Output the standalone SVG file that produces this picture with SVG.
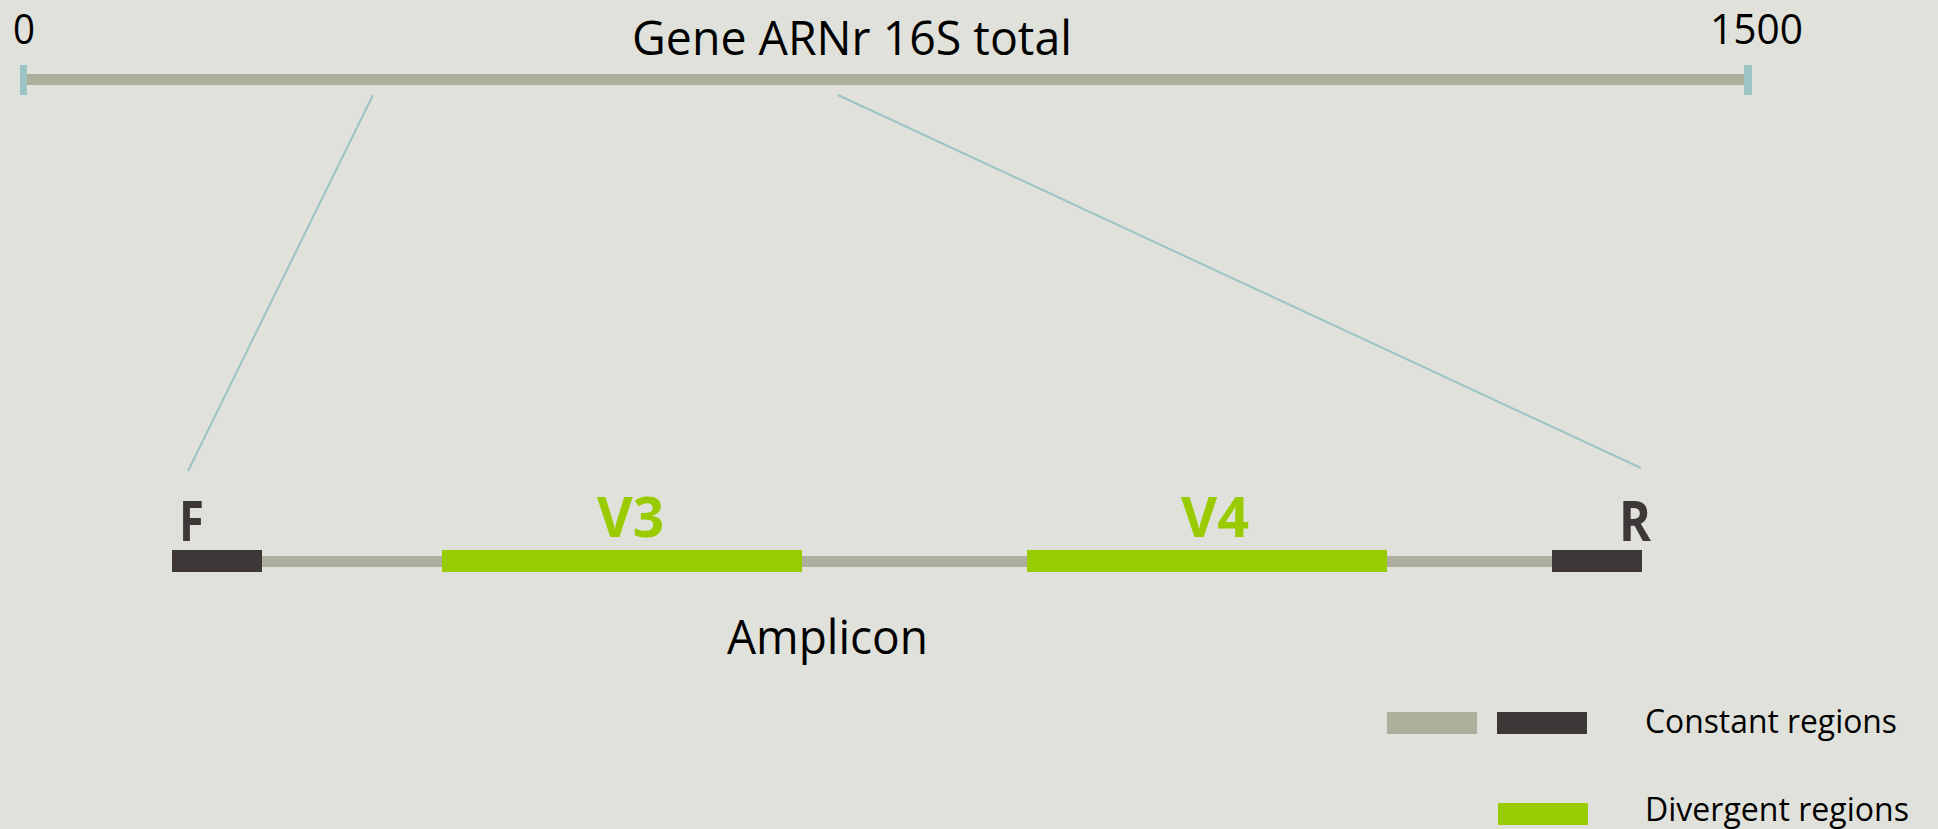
<svg xmlns="http://www.w3.org/2000/svg" width="1938" height="829" viewBox="0 0 1938 829">
<style>
.t{font-family:"Open Sans","Liberation Sans",sans-serif;fill:#000}
.b{font-family:"Open Sans","Liberation Sans",sans-serif;font-weight:bold}
.gray{fill:#adaf9c}
.dark{fill:#3e3738}
.green{fill:#99cc00}
.tick{fill:#9cc4c4}
.conn{stroke:#9cc4c4;stroke-width:2;fill:none}
</style>
<rect width="1938" height="829" fill="#e0e1db"/>
<g id="gene">
<rect class="gray" x="27" y="74" width="1717" height="11"/>
<rect class="tick" x="20" y="65" width="7" height="30"/>
<rect class="tick" x="1744" y="65" width="8" height="30"/>
<text class="t" x="13" y="44" font-size="42" textLength="22" lengthAdjust="spacingAndGlyphs">0</text>
<text class="t" x="1710" y="44" font-size="42" textLength="93" lengthAdjust="spacingAndGlyphs">1500</text>
<text class="t" x="632" y="55" font-size="47.6" textLength="440" lengthAdjust="spacingAndGlyphs">Gene ARNr 16S total</text>
</g>
<g id="connectors">
<line class="conn" x1="373" y1="95" x2="188" y2="471"/>
<line class="conn" x1="838" y1="95" x2="1641" y2="468"/>
</g>
<g id="amplicon">
<rect class="gray" x="262" y="556" width="1290" height="11"/>
<rect class="dark" x="172" y="550" width="90" height="22"/>
<rect class="green" x="442" y="550" width="360" height="22"/>
<rect class="green" x="1027" y="550" width="360" height="22"/>
<rect class="dark" x="1552" y="550" width="90" height="22"/>
<text class="b dark" x="179" y="541" font-size="56" textLength="25" lengthAdjust="spacingAndGlyphs">F</text>
<text class="b green" x="597" y="537" font-size="56" textLength="67" lengthAdjust="spacingAndGlyphs">V3</text>
<text class="b green" x="1181" y="537" font-size="56" textLength="68" lengthAdjust="spacingAndGlyphs">V4</text>
<text class="b dark" x="1619" y="541" font-size="56" textLength="32" lengthAdjust="spacingAndGlyphs">R</text>
<text class="t" x="727" y="654" font-size="47.6" textLength="201" lengthAdjust="spacingAndGlyphs">Amplicon</text>
</g>
<g id="legend">
<rect class="gray" x="1387" y="712" width="90" height="22"/>
<rect class="dark" x="1497" y="712" width="90" height="22"/>
<rect class="green" x="1498" y="803" width="90" height="22"/>
<text class="t" x="1645" y="733" font-size="32" textLength="252" lengthAdjust="spacingAndGlyphs">Constant regions</text>
<text class="t" x="1645" y="821" font-size="32" textLength="264" lengthAdjust="spacingAndGlyphs">Divergent regions</text>
</g>
</svg>
